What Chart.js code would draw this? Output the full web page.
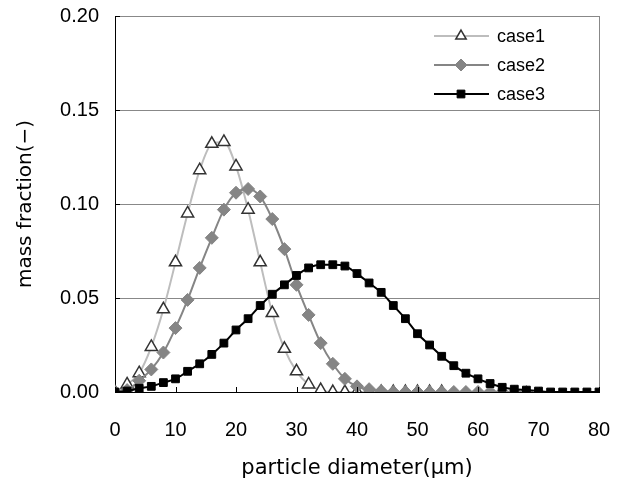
<!DOCTYPE html>
<html>
<head>
<meta charset="utf-8">
<script src="https://cdn.jsdelivr.net/npm/chart.js@4.4.0/dist/chart.umd.min.js"></script>
<style>
    html, body { margin: 0; padding: 0; background: #fff; }
    #chart { display: block; }
</style>
</head>
<body>
<canvas id="chart" width="622" height="481"></canvas>
<script>
// --- data ---
const seriesNames = ['case1', 'case2', 'case3'];

const diameters1 = [0, 2, 4, 6, 8, 10, 12, 14, 16, 18, 20, 22, 24, 26, 28, 30, 32, 34, 36, 38, 40, 42, 44, 46, 48, 50, 52, 54];
const case1 = [0, 0.004, 0.010, 0.024, 0.044, 0.069, 0.095, 0.118, 0.132, 0.133, 0.120, 0.097, 0.069, 0.042, 0.023, 0.011, 0.004, 0.001, 0, 0, 0, 0, 0, 0, 0, 0, 0, 0];

const diameters2 = [0, 2, 4, 6, 8, 10, 12, 14, 16, 18, 20, 22, 24, 26, 28, 30, 32, 34, 36, 38, 40, 42, 44, 46, 48, 50, 52, 54, 56, 58, 60, 62, 64, 66, 68];
const case2 = [0, 0.001, 0.006, 0.012, 0.021, 0.034, 0.049, 0.066, 0.082, 0.097, 0.106, 0.108, 0.104, 0.092, 0.076, 0.057, 0.041, 0.026, 0.015, 0.007, 0.003, 0.0015, 0.0005, 0, 0, 0, 0, 0, 0, 0, 0, 0, 0, 0, 0];

const diameters3 = [0, 2, 4, 6, 8, 10, 12, 14, 16, 18, 20, 22, 24, 26, 28, 30, 32, 34, 36, 38, 40, 42, 44, 46, 48, 50, 52, 54, 56, 58, 60, 62, 64, 66, 68, 70, 72, 74, 76, 78, 80];
const case3 = [0, 0.0005, 0.002, 0.003, 0.005, 0.007, 0.011, 0.015, 0.020, 0.026, 0.033, 0.039, 0.046, 0.052, 0.057, 0.062, 0.066, 0.0677, 0.0677, 0.067, 0.063, 0.058, 0.053, 0.046, 0.039, 0.031, 0.025, 0.019, 0.014, 0.010, 0.007, 0.0045, 0.0025, 0.0015, 0.001, 0.0005, 0, 0, 0, 0, 0];

const xTicks = [0, 10, 20, 30, 40, 50, 60, 70, 80];
const yTicks = [0, 0.05, 0.10, 0.15, 0.20];

function toPoints(xs, ys) {
    return xs.map((x, i) => ({ x: x, y: ys[i] }));
}

// right frame line, inside tick marks and the legend box
const framePlugin = {
    id: 'frame',
    afterDraw(chart) {
        const ctx = chart.ctx;
        const area = chart.chartArea;
        const xs = chart.scales.x;
        const ys = chart.scales.y;
        ctx.save();
        ctx.strokeStyle = '#888';
        ctx.lineWidth = 1;
        ctx.beginPath();
        ctx.moveTo(Math.round(area.right) + 0.5, area.top);
        ctx.lineTo(Math.round(area.right) + 0.5, area.bottom);
        ctx.stroke();

        ctx.strokeStyle = '#000';
        ctx.beginPath();
        xTicks.forEach(v => {
            const px = Math.round(xs.getPixelForValue(v)) + 0.5;
            ctx.moveTo(px, area.bottom);
            ctx.lineTo(px, area.bottom - 5);
        });
        yTicks.forEach(v => {
            const py = Math.round(ys.getPixelForValue(v)) + 0.5;
            ctx.moveTo(area.left, py);
            ctx.lineTo(area.left + 5, py);
        });
        ctx.stroke();

        // legend
        const rows = [36, 65, 94];
        chart.data.datasets.forEach((ds, i) => {
            const y = rows[i];
            ctx.strokeStyle = ds.borderColor;
            ctx.lineWidth = ds.borderWidth;
            ctx.beginPath();
            ctx.moveTo(434, y);
            ctx.lineTo(489, y);
            ctx.stroke();

            ctx.save();
            ctx.fillStyle = ds.pointBackgroundColor;
            ctx.strokeStyle = ds.pointBorderColor;
            ctx.lineWidth = ds.pointBorderWidth;
            Chart.helpers.drawPoint(ctx, {
                pointStyle: ds.pointStyle,
                radius: ds.legendRadius,
                borderWidth: ds.pointBorderWidth,
                rotation: 0
            }, 461, y);
            ctx.restore();

            ctx.fillStyle = '#000';
            ctx.font = '18px "Liberation Sans", Arial, sans-serif';
            ctx.textBaseline = 'middle';
            ctx.textAlign = 'left';
            ctx.fillText(seriesNames[i], 497, y + 1);
        });
        ctx.restore();
    }
};

new Chart(document.getElementById('chart'), {
    type: 'line',
    data: {
        datasets: [
            {
                label: seriesNames[0],
                data: toPoints(diameters1, case1),
                borderColor: '#bdbdbd',
                borderWidth: 2,
                pointStyle: 'triangle',
                pointRadius: 7,
                legendRadius: 6,
                pointBackgroundColor: '#fff',
                pointBorderColor: '#333',
                pointBorderWidth: 1.5,
                cubicInterpolationMode: 'monotone',
                order: 3
            },
            {
                label: seriesNames[1],
                data: toPoints(diameters2, case2),
                borderColor: '#858585',
                borderWidth: 2,
                pointStyle: 'rectRot',
                pointRadius: 6.5,
                legendRadius: 6,
                pointBackgroundColor: '#858585',
                pointBorderColor: '#858585',
                pointBorderWidth: 1,
                cubicInterpolationMode: 'monotone',
                order: 2
            },
            {
                label: seriesNames[2],
                data: toPoints(diameters3, case3),
                borderColor: '#000',
                borderWidth: 2,
                pointStyle: 'rect',
                pointRadius: 5.5,
                legendRadius: 5.5,
                pointBackgroundColor: '#000',
                pointBorderColor: '#000',
                pointBorderWidth: 1,
                cubicInterpolationMode: 'monotone',
                order: 1
            }
        ]
    },
    options: {
        responsive: false,
        animation: false,
        events: [],
        layout: { padding: { left: 0, top: 16, right: 23, bottom: 0 } },
        plugins: {
            legend: { display: false },
            tooltip: { enabled: false }
        },
        scales: {
            x: {
                type: 'linear',
                min: 0,
                max: 80,
                afterFit: (scale) => {
                    scale.height = 89;
                    scale.paddingLeft = 0;
                    scale.paddingRight = 0;
                },
                afterBuildTicks: (scale) => { scale.ticks = xTicks.map(v => ({ value: v })); },
                grid: { display: false, drawTicks: false },
                border: { display: true, color: '#000', width: 1 },
                ticks: {
                    padding: 26,
                    color: '#000',
                    font: { family: '"Liberation Sans", Arial, sans-serif', size: 20 }
                },
                title: {
                    display: true,
                    text: 'particle diameter(μm)',
                    color: '#000',
                    font: { family: '"DejaVu Sans", sans-serif', size: 21 },
                    padding: { top: 4, bottom: 0 }
                }
            },
            y: {
                min: 0,
                max: 0.2,
                afterFit: (scale) => {
                    scale.width = 115;
                    scale.paddingTop = 0;
                    scale.paddingBottom = 0;
                },
                afterBuildTicks: (scale) => { scale.ticks = yTicks.map(v => ({ value: v })); },
                grid: { color: '#888', lineWidth: 1, drawTicks: false },
                border: { display: true, color: '#000', width: 1 },
                ticks: {
                    padding: 16,
                    color: '#000',
                    font: { family: '"Liberation Sans", Arial, sans-serif', size: 20 },
                    callback: (v) => v.toFixed(2)
                },
                title: {
                    display: true,
                    text: 'mass fraction(−)',
                    color: '#000',
                    font: { family: '"DejaVu Sans", sans-serif', size: 20 },
                    padding: { top: 14, bottom: 0 }
                }
            }
        }
    },
    plugins: [framePlugin]
});
</script>
</body>
</html>
